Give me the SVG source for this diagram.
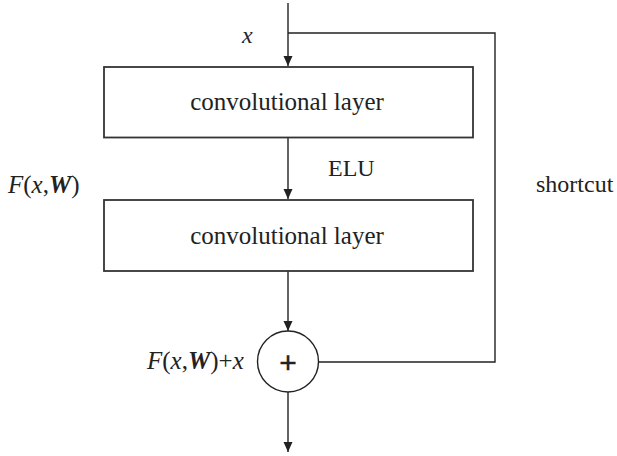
<svg xmlns="http://www.w3.org/2000/svg" width="617" height="456" viewBox="0 0 617 456">
<style>
.ln{fill:none;stroke:#222;stroke-width:1.4}
.bx{fill:#fff;stroke:#333;stroke-width:1.8}
.t{font-family:"Liberation Serif","Times New Roman",serif;font-size:24px;fill:#222}
.c{font-size:25px}
.m{font-size:25px}
.i{font-style:italic}
.b{font-weight:bold;font-style:italic}
</style>
<defs>
<marker id="ah" viewBox="0 0 10 10" refX="10" refY="5" markerWidth="10" markerHeight="10" markerUnits="userSpaceOnUse" orient="auto">
<path d="M0,0.5 L10,5 L0,9.5 Z" fill="#222"/>
</marker>
</defs>
<g id="connectors">
<line class="ln" x1="288" y1="3" x2="288" y2="66" marker-end="url(#ah)"/>
<line class="ln" x1="288" y1="138" x2="288" y2="199" marker-end="url(#ah)"/>
<line class="ln" x1="288" y1="271" x2="288" y2="331" marker-end="url(#ah)"/>
<line class="ln" x1="288" y1="392" x2="288" y2="452" marker-end="url(#ah)"/>
<polyline class="ln" points="288,33 495,33 495,362 319,362"/>
</g>
<g id="conv1">
<rect class="bx" x="104" y="67" width="369" height="70.5"/>
<text class="t c" x="287" y="110" text-anchor="middle">convolutional layer</text>
</g>
<g id="conv2">
<rect class="bx" x="104" y="200" width="369" height="71"/>
<text class="t c" x="287" y="244" text-anchor="middle">convolutional layer</text>
</g>
<g id="sum">
<circle cx="288" cy="361.5" r="30.5" fill="#fff" stroke="#222" stroke-width="1.4"/>
<text x="288" y="373" text-anchor="middle" style="font-family:'Liberation Sans',Arial,sans-serif;font-size:30px;fill:#222;stroke:#222;stroke-width:0.4">+</text>
</g>
<g id="labels">
<text class="t i" x="242" y="43">x</text>
<text class="t" x="328" y="176">ELU</text>
<text class="t" x="536" y="192">shortcut</text>
<text class="t m" x="8" y="193"><tspan class="i">F</tspan>(<tspan class="i">x</tspan>,<tspan class="b">W</tspan>)</text>
<text class="t m" x="147" y="369"><tspan class="i">F</tspan>(<tspan class="i">x</tspan>,<tspan class="b">W</tspan>)+<tspan class="i">x</tspan></text>
</g>
</svg>
